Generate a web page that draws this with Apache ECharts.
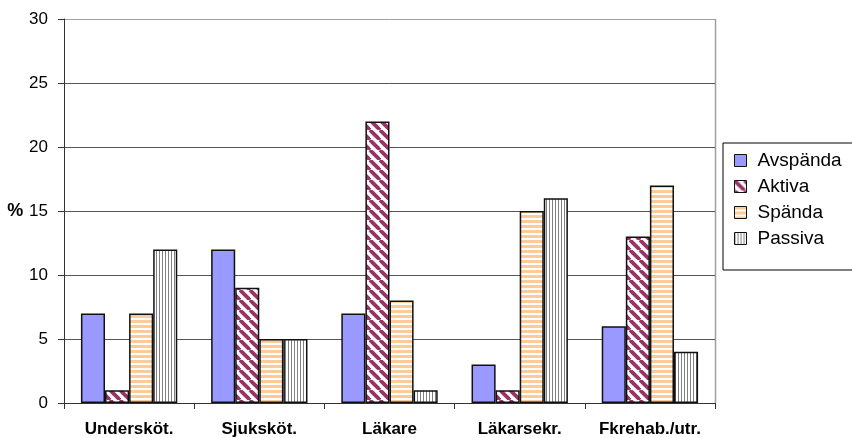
<!DOCTYPE html>
<html>
<head>
<meta charset="utf-8">
<script src="https://cdn.jsdelivr.net/npm/echarts@6/dist/echarts.min.js"></script>
<style>
  html, body { margin: 0; padding: 0; background: #fff; overflow: hidden; }
  #chart { width: 852px; height: 438px; }
</style>
</head>
<body>
<div id="chart"></div>
<script>
// Share of staff per work-strain group (%), by occupation
const categories = ['Undersköt.', 'Sjuksköt.', 'Läkare', 'Läkarsekr.', 'Fkrehab./utr.'];
const seriesNames = ['Avspända', 'Aktiva', 'Spända', 'Passiva'];
const avspanda = [7, 12, 7, 3, 6];
const aktiva   = [1, 9, 22, 1, 13];
const spanda   = [7, 5, 8, 15, 17];
const passiva  = [12, 5, 1, 16, 4];
const yTicks = [0, 5, 10, 15, 20, 25, 30];

const FONT = 'Liberation Sans, Arial, Helvetica, sans-serif';

// Fill patterns drawn on small canvases
function diagonalPattern() {
  const s = 10;
  const c = document.createElement('canvas');
  c.width = s; c.height = s;
  const g = c.getContext('2d');
  g.fillStyle = '#ffffff'; g.fillRect(0, 0, s, s);
  g.strokeStyle = '#993366'; g.lineWidth = 3.8;
  for (let k = -s; k <= 2 * s; k += s) {
    g.beginPath(); g.moveTo(k, 0); g.lineTo(k + s, s); g.stroke();
  }
  return { image: c, repeat: 'repeat' };
}
function horizontalPattern() {
  const c = document.createElement('canvas');
  c.width = 4; c.height = 5;
  const g = c.getContext('2d');
  g.fillStyle = '#ffffff'; g.fillRect(0, 0, 4, 5);
  g.fillStyle = '#ffcc99'; g.fillRect(0, 0, 4, 3);
  return { image: c, repeat: 'repeat' };
}
function verticalPattern() {
  const c = document.createElement('canvas');
  c.width = 3; c.height = 4;
  const g = c.getContext('2d');
  g.fillStyle = '#ffffff'; g.fillRect(0, 0, 3, 4);
  g.fillStyle = '#808080'; g.fillRect(0, 0, 1, 4);
  return { image: c, repeat: 'repeat' };
}

const fills = ['#9999ff', diagonalPattern(), horizontalPattern(), verticalPattern()];
const values = [avspanda, aktiva, spanda, passiva];

const chart = echarts.init(document.getElementById('chart'), null, { renderer: 'canvas' });
chart.setOption({
  animation: false,
  backgroundColor: '#ffffff',
  grid: { left: 64, right: 137, top: 19, bottom: 35 },
  legend: {
    orient: 'vertical',
    left: 723, top: 143,
    data: seriesNames,
    itemWidth: 12, itemHeight: 12, itemGap: 7,
    borderColor: '#000', borderWidth: 1,
    padding: [8, 40, 22, 11],
    textStyle: { fontFamily: FONT, fontSize: 19, color: '#000', padding: [0, 0, 0, 6] },
    icon: 'rect',
    itemStyle: { borderColor: '#111', borderWidth: 1 }
  },
  xAxis: {
    type: 'category',
    data: categories,
    axisLine: { lineStyle: { color: '#333', width: 1 } },
    axisTick: { show: true, length: 6, lineStyle: { color: '#333' } },
    axisLabel: { interval: 0, fontFamily: FONT, fontWeight: 'bold', fontSize: 17, color: '#000', margin: 18 }
  },
  yAxis: {
    type: 'value',
    min: 0, max: 30, interval: 5,
    name: '%', nameLocation: 'middle', nameGap: 26, nameRotate: 0,
    nameTextStyle: { fontFamily: FONT, fontWeight: 'bold', fontSize: 18, color: '#000' },
    axisLine: { show: true, lineStyle: { color: '#333' } },
    axisTick: { show: true, length: 6, lineStyle: { color: '#333' } },
    axisLabel: { fontFamily: FONT, fontSize: 17, color: '#000', margin: 16,
      formatter: v => yTicks.includes(v) ? String(v) : '' },
    splitLine: { lineStyle: { color: ['#555', '#555', '#555', '#555', '#555', '#555', '#a0a0a0'], width: 1 } }
  },
  series: seriesNames.map((name, i) => ({
    name,
    type: 'bar',
    data: values[i],
    barGap: '0%',
    barCategoryGap: '26%',
    itemStyle: { color: fills[i], borderColor: '#111', borderWidth: 1.5 }
  })),
  graphic: [{
    type: 'line',
    shape: { x1: 715.5, y1: 19, x2: 715.5, y2: 403 },
    style: { stroke: '#a0a0a0', lineWidth: 1.5 }
  }]
});
</script>
</body>
</html>
